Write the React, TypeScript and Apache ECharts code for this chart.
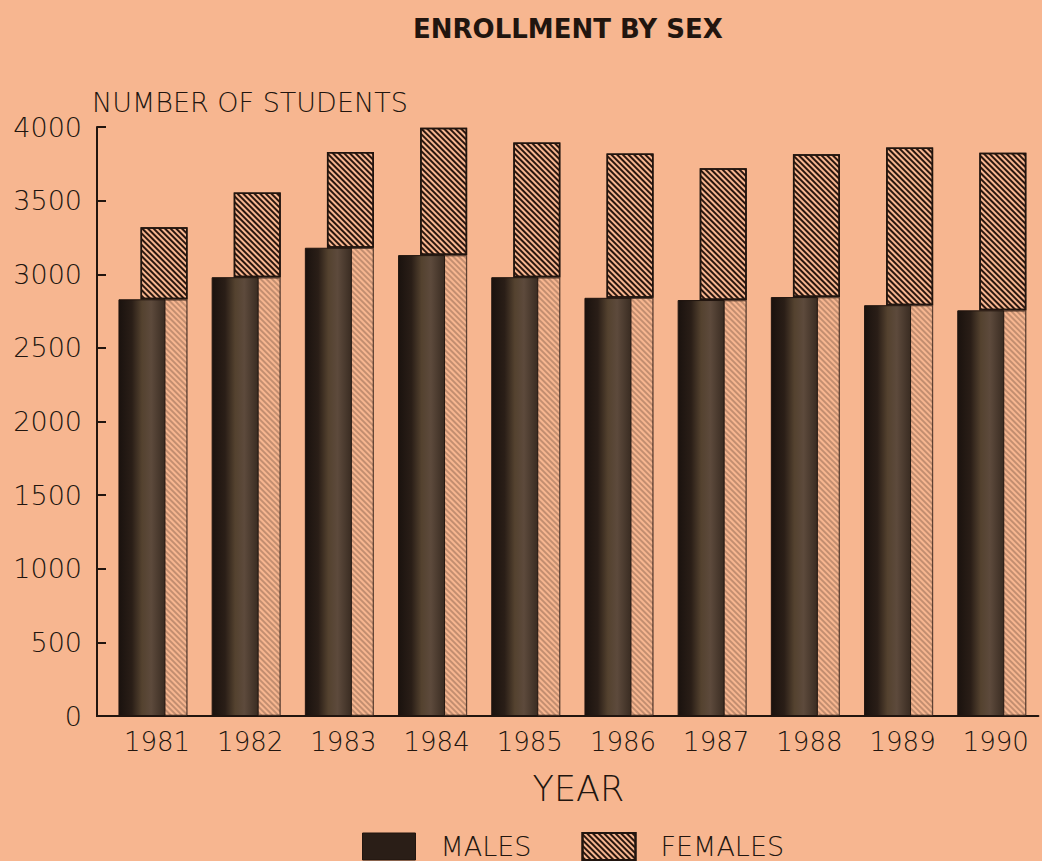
import React, { useEffect, useRef } from 'react';
import * as echarts from 'echarts';

const years = ['1981', '1982', '1983', '1984', '1985', '1986', '1987', '1988', '1989', '1990'];
const males = [2830, 2980, 3180, 3130, 2980, 2840, 2825, 2845, 2790, 2755];
const females = [3320, 3555, 3830, 3995, 3895, 3820, 3720, 3815, 3860, 3825];
const yMin = 0;
const yMax = 4000;
const yInterval = 500;

const BG = '#F7B690';
const INK = '#21150f';
const FONT = '"DejaVu Sans", "Liberation Sans", sans-serif';
const LIGHT = 200;

const femalesLower = females.map((f, i) => Math.min(f, males[i]));
const femalesUpper = females.map((f, i) => f - Math.min(f, males[i]));

const hatch = (color: string) => ({
  symbol: 'rect',
  symbolSize: 1,
  color,
  dashArrayX: [1, 0],
  dashArrayY: [1.5, 1.7],
  rotation: Math.PI / 4,
});

export default function App() {
  const ref = useRef<HTMLDivElement>(null);
  useEffect(() => {
    if (!ref.current) return;
    const chart = echarts.init(ref.current, undefined, { renderer: 'svg' });
    chart.setOption({
      animation: false,
      backgroundColor: BG,
      title: {
        text: 'ENROLLMENT BY SEX',
        left: 413,
        top: 16,
        padding: 0,
        textStyle: { fontFamily: FONT, fontWeight: 'bold', fontSize: 26, color: INK },
      },
      legend: {
        data: [
          { name: 'MALES', itemStyle: { color: '#2a1e17', borderColor: INK, borderWidth: 1 } },
          { name: 'FEMALES' },
        ],
        icon: 'rect',
        left: 362,
        top: 832,
        padding: 0,
        itemWidth: 53,
        itemHeight: 27,
        itemGap: 50,
        selectedMode: false,
        textStyle: { fontFamily: FONT, fontWeight: LIGHT, fontSize: 27, color: INK, padding: [10, 0, 0, 20] },
      },
      grid: { left: 106.4, right: 3.6, top: 127, bottom: 145, containLabel: false },
      xAxis: {
        type: 'category',
        data: years,
        name: 'YEAR',
        nameLocation: 'middle',
        nameGap: 55,
        nameTextStyle: { fontFamily: FONT, fontWeight: LIGHT, fontSize: 35, color: INK, padding: [0, 0, 0, 12] },
        axisLine: { lineStyle: { color: INK, width: 2 } },
        axisTick: { show: false },
        axisLabel: { fontFamily: FONT, fontWeight: LIGHT, fontSize: 26, color: INK, margin: 13, padding: [0, 0, 0, 8] },
      },
      yAxis: {
        type: 'value',
        min: yMin,
        max: yMax,
        interval: yInterval,
        offset: 9.4,
        name: 'NUMBER OF STUDENTS',
        nameLocation: 'end',
        nameGap: 11,
        nameTextStyle: { fontFamily: FONT, fontWeight: LIGHT, fontSize: 27, color: INK, align: 'left', padding: [0, 0, 0, -5] },
        axisLine: { show: true, lineStyle: { color: INK, width: 2 } },
        axisTick: { show: true, inside: true, length: 9, lineStyle: { color: INK, width: 2 } },
        axisLabel: {
          fontFamily: FONT,
          fontWeight: LIGHT,
          fontSize: 27,
          color: INK,
          margin: 15,
          formatter: (v: number) => String(v),
        },
        splitLine: { show: false },
      },
      graphic: [
        {
          type: 'line',
          shape: { x1: 96, y1: 716, x2: 108, y2: 716 },
          style: { stroke: INK, lineWidth: 2 },
          silent: true,
        },
      ],
      series: [
        {
          name: 'MALES',
          type: 'bar',
          data: males,
          barWidth: 47,
          barGap: '-53%',
          z: 3,
          itemStyle: {
            color: {
              type: 'linear', x: 0, y: 0, x2: 1, y2: 0,
              colorStops: [
                { offset: 0, color: '#1a120e' },
                { offset: 0.28, color: '#2a1e17' },
                { offset: 0.5, color: '#54422f' },
                { offset: 0.7, color: '#5d4a3c' },
                { offset: 1, color: '#3a2c22' },
              ],
            },
            borderColor: INK,
            borderWidth: 1,
          },
        },
        {
          name: 'females-lower',
          type: 'bar',
          stack: 'f',
          data: femalesLower,
          barWidth: 47,
          barGap: '-53%',
          z: 2,
          itemStyle: {
            color: BG,
            borderColor: 'rgba(33,21,15,0.45)',
            borderWidth: 1.2,
            decal: hatch('rgba(40,22,14,0.25)'),
          },
        },
        {
          name: 'FEMALES',
          type: 'bar',
          stack: 'f',
          data: femalesUpper,
          barWidth: 47,
          barGap: '-53%',
          z: 2,
          itemStyle: {
            color: BG,
            borderColor: INK,
            borderWidth: 1.5,
            decal: hatch('#2a160e'),
          },
        },
      ],
    });
    return () => chart.dispose();
  }, []);
  return (
    <div
      ref={ref}
      style={{ position: 'fixed', left: 0, top: 0, width: 1042, height: 861, background: BG }}
    />
  );
}
